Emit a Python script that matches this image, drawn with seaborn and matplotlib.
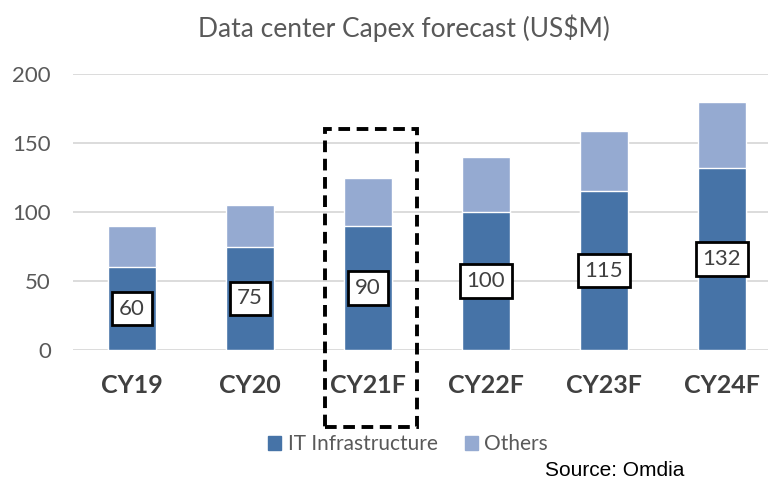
import pandas as pd
import seaborn as sns
import matplotlib.pyplot as plt
from matplotlib.patches import Patch, Rectangle

# data
years = ["CY19", "CY20", "CY21F", "CY22F", "CY23F", "CY24F"]
it_infra = [60, 75, 90, 100, 115, 132]
others = [30, 30, 35, 40, 44, 48]

df = pd.DataFrame({"year": years, "it": it_infra, "others": others})
df["total"] = df["it"] + df["others"]

sns.set_theme(style="white")
plt.rcParams["font.family"] = ["Lato", "DejaVu Sans"]

c_it = "#4673A7"
c_oth = "#95AAD1"
grey = "#595959"

fig = plt.figure(figsize=(7.68, 4.97), dpi=100)
ax = fig.add_axes([73 / 768, 147 / 497, 1 - 73 / 768, 276 / 497])

# stacked look: totals in light colour, IT drawn over the bottom part
sns.barplot(data=df, x="year", y="total", color=c_oth, width=0.4, saturation=1, ax=ax)
sns.barplot(data=df, x="year", y="it", color=c_it, width=0.4, saturation=1, ax=ax)

ax.set_ylim(0, 200)
ax.set_xlim(-0.5, 5.39)
ax.set_yticks([0, 50, 100, 150, 200])
ax.yaxis.grid(True, color="#D9D9D9", linewidth=1.3)
ax.set_axisbelow(True)
for s in ax.spines.values():
    s.set_visible(False)
ax.set_xlabel("")
ax.set_ylabel("")
ax.tick_params(axis="y", labelsize=16, labelcolor=grey, pad=16, length=0)
ax.tick_params(axis="x", labelsize=18, labelcolor="#404040", pad=17, length=0)
for t in ax.get_xticklabels():
    t.set_fontweight("bold")

# value boxes in the middle of the IT segment
for i, v in enumerate(it_infra):
    ax.text(i, v / 2, str(v), ha="center", va="center", fontsize=16, color="#404040",
            bbox=dict(boxstyle="square,pad=0.3", fc="white", ec="black", lw=2))

# dashed highlight around CY21F
fig.patches.append(Rectangle((325 / 768, 1 - 427 / 497), 92 / 768, 298 / 497,
                             transform=fig.transFigure, fill=False, ec="black",
                             lw=2.8, ls=(0, (3, 1.7)), zorder=10))

fig.text(404 / 768, 1 - 28 / 497, "Data center Capex forecast (US$M)", ha="center", va="center",
         fontsize=19, color=grey)

handles = [Patch(color=c_it, label="IT Infrastructure"), Patch(color=c_oth, label="Others")]
fig.legend(handles=handles, loc="center", bbox_to_anchor=(408 / 768, 1 - 444 / 497), ncol=2,
           frameon=False, fontsize=15, handlelength=0.65, handleheight=0.65,
           handletextpad=0.3, columnspacing=1.3, labelcolor=grey)

fig.text(545 / 768, 1 - 470 / 497, "Source: Omdia", ha="left", va="center",
         fontsize=15, color="black", family=["Liberation Sans", "DejaVu Sans"])

fig.savefig("out.png", dpi=100, facecolor="white")
